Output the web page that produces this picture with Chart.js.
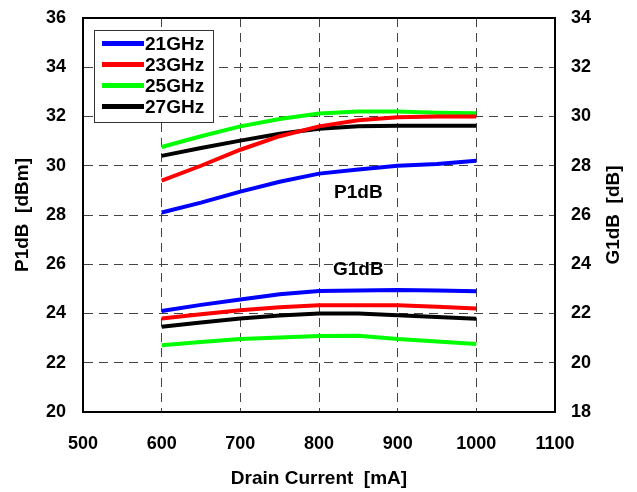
<!DOCTYPE html>
<html>
<head>
<meta charset="utf-8">
<script src="https://cdn.jsdelivr.net/npm/chart.js@4.4.0/dist/chart.umd.min.js"></script>
<style>
  html, body { margin: 0; padding: 0; background: #fff; }
  #wrap { width: 637px; height: 492px; }
</style>
</head>
<body>
<div id="wrap"><canvas id="myChart" width="637" height="492"></canvas></div>
<script>
var current = [600, 650, 700, 750, 800, 850, 900, 950, 1000];
var freqs = ["21GHz", "23GHz", "25GHz", "27GHz"];
var colors = ["#0000ff", "#ff0000", "#00ff00", "#000000"];

// P1dB [dBm], left axis
var p1_21 = [28.1, 28.5, 28.95, 29.35, 29.68, 29.85, 30.0, 30.07, 30.2];
var p1_23 = [29.4, 30.0, 30.65, 31.2, 31.6, 31.85, 31.97, 32.0, 32.0];
var p1_25 = [30.76, 31.2, 31.6, 31.9, 32.12, 32.2, 32.2, 32.15, 32.13];
var p1_27 = [30.4, 30.72, 31.02, 31.3, 31.5, 31.6, 31.62, 31.62, 31.62];

// G1dB [dB], right axis
var g1_21 = [22.1, 22.35, 22.57, 22.78, 22.91, 22.93, 22.95, 22.93, 22.9];
var g1_23 = [21.8, 21.97, 22.13, 22.25, 22.33, 22.33, 22.33, 22.27, 22.2];
var g1_25 = [20.71, 20.84, 20.96, 21.03, 21.09, 21.1, 20.96, 20.86, 20.76];
var g1_27 = [21.46, 21.63, 21.8, 21.92, 22.0, 22.0, 21.93, 21.86, 21.79];

var p1Series = [p1_21, p1_23, p1_25, p1_27];
var g1Series = [g1_21, g1_23, g1_25, g1_27];

function pts(vals) {
	return vals.map(function(v, i){ return {x: current[i], y: v}; });
}

var datasets = [];
for (var i = 0; i < freqs.length; i++) {
	datasets.push({ label: freqs[i], data: pts(p1Series[i]), yAxisID: 'y',
		borderColor: colors[i], borderWidth: 4, pointRadius: 0, tension: 0 });
}
for (var i = 0; i < freqs.length; i++) {
	datasets.push({ label: freqs[i] + " G", data: pts(g1Series[i]), yAxisID: 'y2',
		borderColor: colors[i], borderWidth: 4, pointRadius: 0, tension: 0 });
}

var fam = "'Liberation Sans', Arial, sans-serif";
var tickFont = { family: fam, size: 18, weight: 'bold' };
var titleFont = { family: fam, size: 19, weight: 'bold' };
function plain(v) { return String(v); }

// fixed axis sizes so the plot box lands where the reference has it
function fixY(w) {
	return function(s) { s.width = w; s.paddingTop = 0; s.paddingBottom = 0; };
}

// frame, legend box, right title and the two group labels
var extras = {
	id: 'extras',
	afterDraw: function(chart) {
		var c = chart.ctx, a = chart.chartArea, sx = chart.scales.x, sy = chart.scales.y;
		c.save();
		c.strokeStyle = '#000';
		c.lineWidth = 2;
		c.strokeRect(a.left, a.top, a.right - a.left, a.bottom - a.top);

		// legend
		c.fillStyle = '#fff';
		c.fillRect(a.left + 11, a.top + 12, 119, 92);
		c.lineWidth = 1;
		c.strokeStyle = '#333';
		c.strokeRect(a.left + 11.5, a.top + 12.5, 119, 92);
		c.font = "bold 19px " + fam;
		c.textBaseline = 'middle';
		for (var i = 0; i < freqs.length; i++) {
			var yy = a.top + 25.5 + i * 21;
			c.strokeStyle = colors[i];
			c.lineWidth = 5;
			c.beginPath();
			c.moveTo(a.left + 19, yy);
			c.lineTo(a.left + 61, yy);
			c.stroke();
			c.fillStyle = '#000';
			c.fillText(freqs[i], a.left + 62, yy + 1);
		}

		c.font = "bold 19px " + fam;
		c.textAlign = 'center';
		c.fillStyle = '#000';
		c.fillText('P1dB', sx.getPixelForValue(850), sy.getPixelForValue(28.9));
		c.fillText('G1dB', sx.getPixelForValue(850), sy.getPixelForValue(25.77));

		// right title, reading upward
		c.translate(614, (a.top + a.bottom) / 2);
		c.rotate(-Math.PI / 2);
		c.fillText('G1dB  [dB]', 0, 0);
		c.restore();
	}
};

var ctx = document.getElementById("myChart");
var myChart = new Chart(ctx, {
	type: 'line',
	data: { datasets: datasets },
	options: {
		responsive: false,
		animation: false,
		layout: { padding: { top: 18, left: 0, right: 0, bottom: 0 } },
		plugins: { legend: { display: false }, tooltip: { enabled: false } },
		scales: {
			x: {
				type: 'linear', min: 500, max: 1100,
				afterFit: function(s){ s.height = 80; },
				ticks: { stepSize: 100, color: '#000', font: tickFont, padding: 21, maxRotation: 0, callback: plain },
				grid: { color: '#444', lineWidth: 1, drawTicks: false },
				border: { color: '#000', width: 2, dash: [9, 6] },
				title: { display: true, text: 'Drain Current  [mA]', color: '#000', font: titleFont,
					padding: { top: 0, bottom: 2 } }
			},
			y: {
				position: 'left', min: 20, max: 36,
				afterFit: fixY(83),
				ticks: { stepSize: 2, color: '#000', font: tickFont, padding: 17, callback: plain },
				grid: { color: '#444', lineWidth: 1, drawTicks: false },
				border: { color: '#000', width: 2, dash: [9, 6] },
				title: { display: true, text: 'P1dB  [dBm]', color: '#000', font: titleFont,
					padding: { top: 11, bottom: 0 } }
			},
			y2: {
				position: 'right', min: 18, max: 34,
				afterFit: fixY(82),
				ticks: { stepSize: 2, color: '#000', font: tickFont, padding: 16, callback: plain },
				grid: { drawOnChartArea: false, drawTicks: false },
				border: { color: '#000', width: 2 }
			}
		}
	},
	plugins: [extras]
});
</script>
</body>
</html>
